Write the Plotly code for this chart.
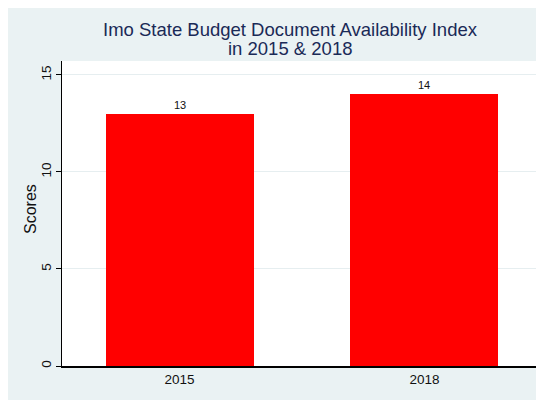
import plotly.graph_objects as go

years = ["2015", "2018"]
scores = [13, 14]
y_ticks = [0, 5, 10, 15]
title_lines = ["Imo State Budget Document Availability Index", "in 2015 & 2018"]
y_title = "Scores"

BG = "#EAF2F3"
W, H = 536, 392
L, R, T, B = 54, 2, 53, 34
pw = W - L - R
ph = H - T - B
FONT = "Liberation Sans, Arial, Helvetica"

fig = go.Figure()
fig.add_trace(go.Bar(
    x=years, y=scores,
    marker=dict(color="#FF0000", line=dict(width=0)),
    width=0.604,
    text=[str(v) for v in scores], textposition="outside",
    textfont=dict(size=11, color="#111111", family=FONT),
    cliponaxis=False,
))

def py(p):
    return (H - B - p) / ph

def px(p):
    return (p - L) / pw

fig.update_layout(
    width=W, height=H,
    margin=dict(l=L, r=R, t=T, b=B),
    paper_bgcolor=BG,
    plot_bgcolor="white",
    font=dict(family=FONT, color="#111111"),
    showlegend=False,
    bargap=0,
    annotations=[
        dict(text=title_lines[0], xref="paper", yref="paper",
             x=px(282), y=py(22), xanchor="center", yanchor="middle",
             showarrow=False, font=dict(size=18.5, color="#1A2A57", family=FONT)),
        dict(text=title_lines[1], xref="paper", yref="paper",
             x=px(282), y=py(40), xanchor="center", yanchor="middle",
             showarrow=False, font=dict(size=18.5, color="#1A2A57", family=FONT)),
        dict(text=y_title, xref="paper", yref="paper",
             x=px(22), y=py(201), xanchor="center", yanchor="middle",
             textangle=-90, showarrow=False,
             font=dict(size=16, color="#111111", family=FONT)),
    ],
    xaxis=dict(
        range=[-0.48, 1.48], showgrid=False, showline=True, linecolor="black",
        linewidth=1.5, ticks="", tickfont=dict(size=13.5), zeroline=False,
    ),
    yaxis=dict(
        range=[0, 15.72], tickvals=y_ticks, showline=True, linecolor="black",
        linewidth=1, ticks="outside", ticklen=5, tickcolor="black",
        tickangle=-90, tickfont=dict(size=13.5),
        gridcolor="#E6EEF0", gridwidth=1, zeroline=False,
    ),
)
fig.write_html("out.html")
